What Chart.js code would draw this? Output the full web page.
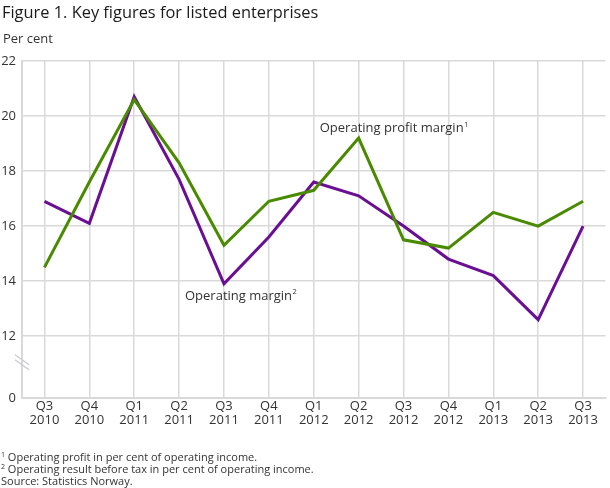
<!DOCTYPE html>
<html>
<head>
<meta charset="utf-8">
<script src="https://cdn.jsdelivr.net/npm/chart.js@4/dist/chart.umd.min.js"></script>
<style>
  body { margin: 0; background: #fff; font-family: 'Open Sans', sans-serif; color: #222; }
  #wrap { position: relative; width: 610px; height: 488px; }
  #chart { position: absolute; left: 0; top: 0; }
  .title { position: absolute; left: 2px; top: 0px; font-size: 16.4px; color: #1a1a1a; }
  .unit { position: absolute; left: 3px; top: 29px; font-size: 13px; color: #333; }
  .notes { position: absolute; left: 1px; top: 451px; font-size: 11px; line-height: 12px; color: #333; }
  .notes sup { font-size: 7px; vertical-align: 4px; line-height: 0; }
</style>
</head>
<body>
<div id="wrap">
  <canvas id="chart" width="610" height="488"></canvas>
  <div class="title">Figure 1. Key figures for listed enterprises</div>
  <div class="unit">Per cent</div>
  <div class="notes">
    <div><sup>1</sup> Operating profit in per cent of operating income.</div>
    <div><sup>2</sup> Operating result before tax in per cent of operating income.</div>
    <div>Source: Statistics Norway.</div>
  </div>
</div>
<script>
const quarters = [['Q3','2010'],['Q4','2010'],['Q1','2011'],['Q2','2011'],['Q3','2011'],['Q4','2011'],
                  ['Q1','2012'],['Q2','2012'],['Q3','2012'],['Q4','2012'],['Q1','2013'],['Q2','2013'],['Q3','2013']];
const profitMargin = [14.5, 17.6, 20.6, 18.3, 15.3, 16.9, 17.3, 19.2, 15.5, 15.2, 16.5, 16.0, 16.9];
const operatingMargin = [16.9, 16.1, 20.7, 17.7, 13.9, 15.6, 17.6, 17.1, 16.0, 14.8, 14.2, 12.6, 16.0];
// axis is broken: the bottom tick stands for 0
const yTicks = [9.75, 12, 14, 16, 18, 20, 22];
const yTickLabels = ['0', '12', '14', '16', '18', '20', '22'];

const gridColor = '#d9d9d9';
const tickFont = { family: 'Open Sans', size: 13, lineHeight: 1.08 };

// labels on the lines + axis break mark
const extras = {
  id: 'extras',
  afterDraw(chart) {
    const ctx = chart.ctx, x = chart.scales.x, y = chart.scales.y;
    function label(text, sup, px, py) {
      ctx.save();
      ctx.fillStyle = '#333';
      ctx.textBaseline = 'middle';
      ctx.font = '13px "Open Sans"';
      ctx.fillText(text, px, py);
      const w = ctx.measureText(text).width;
      ctx.font = '7.5px "Open Sans"';
      ctx.fillText(sup, px + w + 0.5, py - 4);
      ctx.restore();
    }
    label('Operating profit margin', '1', x.getPixelForValue(6) + 6, y.getPixelForValue(19.55));
    label('Operating margin', '2', x.getPixelForValue(4) - 39, y.getPixelForValue(13.45));

    // break symbol on y axis
    const bx = chart.chartArea.left, by = y.getPixelForValue(11.05);
    ctx.save();
    ctx.strokeStyle = '#c9c9d2';
    ctx.lineWidth = 1.3;
    [-2.5, 2.5].forEach(d => {
      ctx.beginPath();
      ctx.moveTo(bx - 7, by - 5 + d);
      ctx.lineTo(bx + 7, by + 5 + d);
      ctx.stroke();
    });
    ctx.restore();
  }
};

new Chart(document.getElementById('chart').getContext('2d'), {
  type: 'line',
  data: {
    labels: quarters,
    datasets: [
      { label: 'Operating profit margin', data: profitMargin, borderColor: '#4a8a00', borderWidth: 3, pointRadius: 0, tension: 0 },
      { label: 'Operating margin', data: operatingMargin, borderColor: '#6a0f93', borderWidth: 3, pointRadius: 0, tension: 0 }
    ]
  },
  options: {
    responsive: false,
    animation: false,
    layout: { autoPadding: false, padding: { top: 61, left: 0, right: 4.5, bottom: 50 } },
    plugins: { legend: { display: false }, tooltip: { enabled: false } },
    scales: {
      x: {
        offset: true,
        grid: { offset: false, color: gridColor, lineWidth: 1.5, drawTicks: false },
        border: { color: gridColor, width: 2 },
        ticks: { color: '#333', font: tickFont, padding: 1, maxRotation: 0, autoSkip: false },
        afterFit(s) { s.height = 40; }
      },
      y: {
        min: 9.75, max: 22,
        afterBuildTicks(s) { s.ticks = yTicks.map(v => ({ value: v })); },
        grid: { color: gridColor, lineWidth: 1.5, drawTicks: false },
        border: { color: gridColor, width: 2 },
        ticks: { color: '#333', font: tickFont, padding: 6,
                 callback: (v, i) => yTickLabels[i] },
        afterFit(s) { s.width = 22; }
      }
    }
  },
  plugins: [extras]
});
</script>
</body>
</html>
